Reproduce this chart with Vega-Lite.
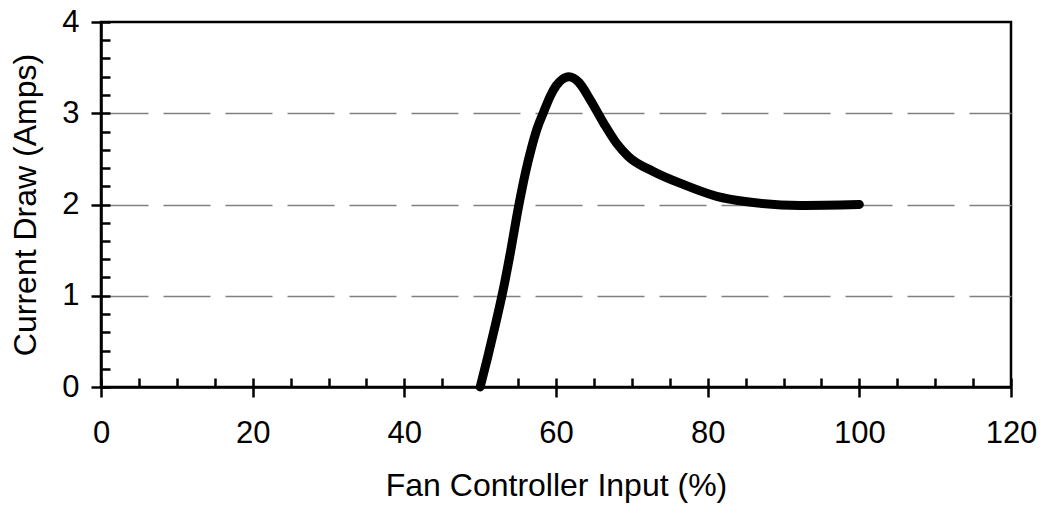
{
  "$schema": "https://vega.github.io/schema/vega-lite/v6.json",
  "width": 910,
  "height": 365,
  "autosize": "none",
  "padding": {"left": 101, "top": 22, "right": 31, "bottom": 119},
  "background": "white",
  "config": {
    "view": {"stroke": "black", "strokeWidth": 2.5},
    "font": "Liberation Sans",
    "axis": {
      "labelFont": "Liberation Sans",
      "titleFont": "Liberation Sans",
      "labelColor": "black",
      "titleColor": "black",
      "labelFontSize": 31,
      "titleFontSize": 32,
      "titleFontWeight": "normal",
      "labelFlush": false,
      "labelOverlap": false,
      "domainColor": "black",
      "domainWidth": 2.5,
      "tickColor": "black",
      "tickWidth": 2.5
    }
  },
  "data": {
    "values": [
      {"input": 50, "amps": 0},
      {"input": 51, "amps": 0.33},
      {"input": 52, "amps": 0.68},
      {"input": 53, "amps": 1.05},
      {"input": 54, "amps": 1.48},
      {"input": 55, "amps": 1.95},
      {"input": 56, "amps": 2.36},
      {"input": 56.8, "amps": 2.63},
      {"input": 57.5, "amps": 2.83},
      {"input": 58.4, "amps": 3.02},
      {"input": 59.2, "amps": 3.18},
      {"input": 60.0, "amps": 3.3},
      {"input": 60.8, "amps": 3.37},
      {"input": 61.7, "amps": 3.4},
      {"input": 63, "amps": 3.34},
      {"input": 64.5, "amps": 3.15},
      {"input": 66.3, "amps": 2.89},
      {"input": 68, "amps": 2.67},
      {"input": 69.5, "amps": 2.53},
      {"input": 72.9, "amps": 2.36},
      {"input": 76.8, "amps": 2.22},
      {"input": 81.2, "amps": 2.09},
      {"input": 85.2, "amps": 2.03},
      {"input": 92.2, "amps": 1.99},
      {"input": 100, "amps": 2.0}
    ]
  },
  "layer": [
    {
      "mark": {"type": "line", "strokeOpacity": 0},
      "encoding": {
        "x": {
          "field": "input", "type": "quantitative",
          "scale": {"domain": [0, 120], "nice": false, "zero": false},
          "axis": {"orient": "bottom", "values": [0,5,10,15,20,25,30,35,40,45,50,55,60,65,70,75,80,85,90,95,100,105,110,115,120], "tickSize": -9, "labels": false, "domain": false, "grid": false, "title": null}
        },
        "y": {
          "field": "amps", "type": "quantitative",
          "scale": {"domain": [0, 4], "nice": false},
          "axis": {"orient": "left", "values": [0,0.2,0.4,0.6,0.8,1,1.2,1.4,1.6,1.8,2,2.2,2.4,2.6,2.8,3,3.2,3.4,3.6,3.8,4], "tickSize": -9, "labels": false, "domain": false, "grid": false, "title": null}
        }
      }
    },
    {
      "mark": {"type": "line", "color": "black", "strokeWidth": 9, "strokeCap": "round", "strokeJoin": "round", "interpolate": "monotone"},
      "encoding": {
        "x": {
          "field": "input", "type": "quantitative",
          "scale": {"domain": [0, 120], "nice": false, "zero": false},
          "axis": {"orient": "bottom", "values": [0,20,40,60,80,100,120], "tickSize": 10, "labelPadding": 21, "grid": false, "title": "Fan Controller Input (%)", "titlePadding": 22}
        },
        "y": {
          "field": "amps", "type": "quantitative",
          "scale": {"domain": [0, 4], "nice": false},
          "axis": {"orient": "left", "values": [0,1,2,3,4], "tickSize": 10, "labelPadding": 12, "grid": true, "gridColor": "#808080", "gridWidth": 1.3, "gridDash": [47, 15], "gridOpacity": {"condition": {"test": "datum.value == 0 || datum.value == 4", "value": 0}, "value": 1}, "title": "Current Draw (Amps)", "titlePadding": 19}
        }
      }
    }
  ],
  "resolve": {"axis": {"x": "independent", "y": "independent"}}
}
